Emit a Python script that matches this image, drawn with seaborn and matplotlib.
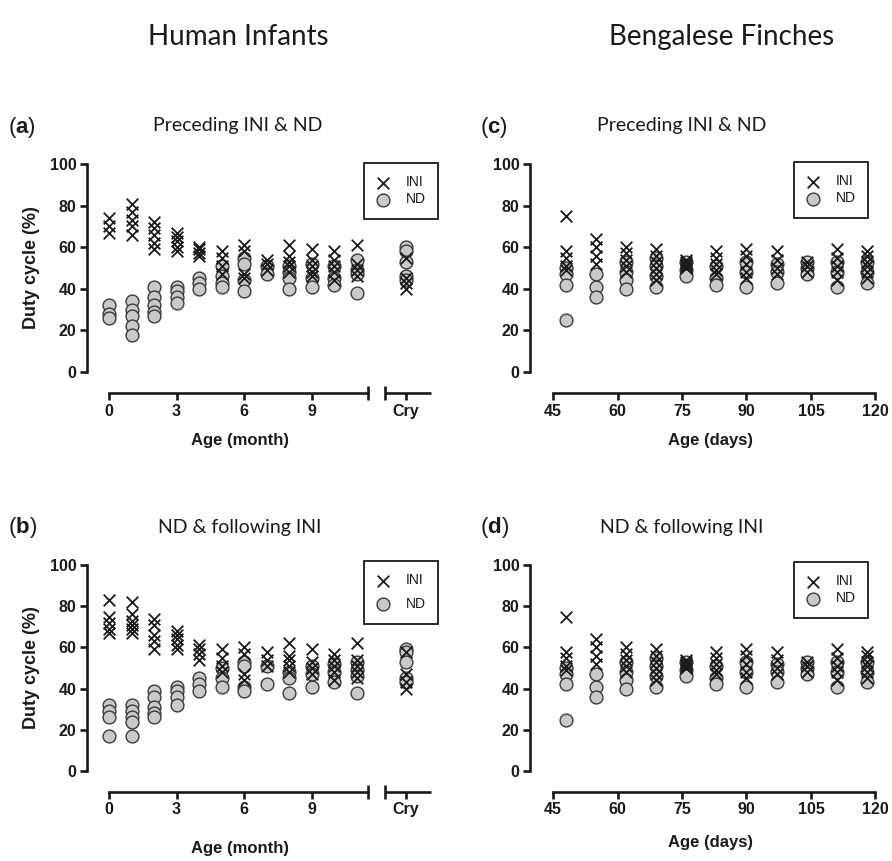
"""
Duty cycle of INI / ND across age: human infants vs Bengalese finches
"""
import numpy as np
import pandas as pd
import matplotlib
matplotlib.use('Agg')
import matplotlib.pyplot as plt
import matplotlib.transforms as mtransforms
import seaborn as sns

sns.set_style('ticks')
plt.rcParams['font.family'] = ['Liberation Sans', 'DejaVu Sans']
plt.rcParams['mathtext.fontset'] = 'custom'
plt.rcParams['mathtext.rm'] = 'Liberation Sans'
plt.rcParams['mathtext.bf'] = 'Liberation Sans:bold'

# ---- data ----
infant_pos = [0, 1, 2, 3, 4, 5, 6, 7, 8, 9, 10, 11, 13.2]   # last column = Cry
infant_ticks = [0, 3, 6, 9, 13.2]
infant_ticklabels = ['0', '3', '6', '9', 'Cry']

a_ini = [[74, 70, 67], [81, 77, 73, 70, 66], [72, 69, 66, 62, 59], [67, 65, 63, 60, 58],
         [60, 59, 57, 56], [58, 55, 51, 47], [61, 58, 47, 45], [54, 52, 49],
         [61, 56, 53, 51, 48], [59, 54, 51, 48, 46], [58, 54, 51, 48, 44], [61, 52, 49, 46],
         [55, 45, 43, 40]]
a_nd = [[32, 28, 26], [34, 30, 27, 22, 18], [41, 36, 32, 29, 27], [41, 39, 36, 33],
        [45, 43, 40], [51, 46, 43, 41], [55, 52, 44, 39], [51, 47],
        [51, 48, 45, 40], [52, 45, 41], [51, 45, 42], [54, 49, 47, 38],
        [60, 58, 53, 46, 44]]

b_ini = [[83, 75, 72, 69, 67], [82, 76, 73, 71, 69, 67], [74, 71, 66, 63, 59], [68, 66, 64, 61, 59],
         [61, 59, 57, 54], [59, 55, 51, 48], [60, 57, 47, 44], [58, 54, 51],
         [62, 56, 54, 51, 48], [59, 53, 50, 47], [57, 54, 51, 48, 44], [62, 54, 51, 48, 45],
         [58, 47, 43, 40]]
b_nd = [[32, 29, 26, 17], [32, 29, 26, 24, 17], [39, 36, 31, 28, 26], [41, 39, 36, 32],
        [45, 42, 39], [50, 45, 41], [53, 51, 41, 39], [51, 42],
        [48, 45, 38], [51, 47, 41], [52, 48, 43], [53, 49, 46, 38],
        [59, 58, 53, 45, 43]]

finch_days = [48, 55, 62, 69, 76, 83, 90, 97, 104, 111, 118]
finch_ticks = [45, 60, 75, 90, 105, 120]

# panels (c) and (d) show the same values in the reference
finch_ini = [[75, 58, 55, 51, 49], [64, 60, 56, 52], [60, 57, 54, 51, 48], [59, 56, 53, 50, 47, 44],
             [54, 53, 52, 51, 50], [58, 55, 52, 49, 47], [59, 56, 52, 48, 45], [58, 54, 50, 47],
             [53, 51, 48], [59, 55, 51, 48, 44], [58, 56, 53, 51, 48, 45]]
finch_nd = [[50, 47, 42, 25], [47, 41, 36], [53, 48, 44, 40], [55, 51, 46, 41],
            [53, 49, 46], [51, 45, 42], [53, 48, 41], [52, 48, 43],
            [53, 50, 47], [53, 48, 41], [53, 48, 43]]


def long_form(xs, groups):
    rows = [(x, v) for x, g in zip(xs, groups) for v in g]
    return pd.DataFrame(rows, columns=['x', 'y'])


W, H = 892, 861
fig = plt.figure(figsize=(W / 100, H / 100), dpi=100)


def px_axes(left, right, top, bottom):
    return fig.add_axes([left / W, 1 - bottom / H, (right - left) / W, (bottom - top) / H])


LW = 1.9
INK = '#1a1a1a'
SPINE_OFF = -21 / 207


def draw_panel(ax, xs, ini, nd, xlim, legend_anchor, legend_space):
    sns.scatterplot(data=long_form(xs, nd), x='x', y='y', ax=ax, marker='o', s=85,
                    color='#c9c9c9', edgecolor='#3a3a3a', linewidth=1.0, label='ND', zorder=3)
    sns.scatterplot(data=long_form(xs, ini), x='x', y='y', ax=ax, marker='x', s=70,
                    color=INK, linewidth=1.3, label='INI', zorder=4)
    ax.set_xlim(*xlim)
    ax.set_ylim(0, 100)
    ax.set_yticks([0, 20, 40, 60, 80, 100])
    ax.set_xlabel('')
    ax.set_ylabel('')
    sns.despine(ax=ax)
    for side in ['left', 'bottom']:
        ax.spines[side].set_linewidth(LW)
        ax.spines[side].set_color(INK)
    ax.spines['bottom'].set_position(('axes', SPINE_OFF))
    ax.tick_params(width=LW, length=5, labelsize=11.5, pad=2.5, color=INK, labelcolor=INK)
    for lab in ax.get_xticklabels() + ax.get_yticklabels():
        lab.set_fontweight('bold')
    h, l = ax.get_legend_handles_labels()
    leg = ax.legend(h[::-1], l[::-1], loc='upper right', bbox_to_anchor=legend_anchor,
                    borderaxespad=0, fancybox=False, framealpha=1, edgecolor=INK,
                    fontsize=10, handletextpad=1.1, handlelength=1.0, labelspacing=legend_space,
                    borderpad=0.9)
    leg.get_frame().set_linewidth(1.3)
    for t in leg.get_texts():
        t.set_color(INK)


def infant_axis(ax):
    ax.set_xticks(infant_ticks)
    ax.set_xticklabels(infant_ticklabels, fontweight='bold')
    ax.spines['bottom'].set_bounds(0, 11.5)
    trans = mtransforms.blended_transform_factory(ax.transData, ax.transAxes)
    # Cry segment of the broken x axis
    ax.plot([12.27, 14.3], [SPINE_OFF, SPINE_OFF], color=INK, lw=LW,
            transform=trans, clip_on=False, solid_capstyle='butt')
    ax.plot([11.5, 12.27], [SPINE_OFF, SPINE_OFF], linestyle='none', marker='|',
            markersize=10, mew=LW, color=INK, transform=trans, clip_on=False)


def finch_axis(ax):
    ax.set_xticks(finch_ticks)
    ax.set_xticklabels([str(t) for t in finch_ticks], fontweight='bold')
    ax.spines['bottom'].set_bounds(45, 120)


ax_a = px_axes(87, 440, 164, 372)
draw_panel(ax_a, infant_pos, a_ini, a_nd, (-0.98, 14.71), (0.994, 1.005), 0.2)
infant_axis(ax_a)

ax_b = px_axes(87, 440, 565, 771)
draw_panel(ax_b, infant_pos, b_ini, b_nd, (-0.98, 14.71), (0.994, 1.02), 0.7)
infant_axis(ax_b)

ax_c = px_axes(530, 880, 164, 372)
draw_panel(ax_c, finch_days, finch_ini, finch_nd, (39.65, 121.05), (0.966, 1.01), 0.2)
finch_axis(ax_c)

ax_d = px_axes(530, 880, 565, 771)
draw_panel(ax_d, finch_days, finch_ini, finch_nd, (39.65, 121.05), (0.966, 1.015), 0.2)
finch_axis(ax_d)

# ---- texts ----
title_font = ['Lato', 'DejaVu Sans']


def ftext(x, y, s, **kw):
    fig.text(x / W, 1 - y / H, s, color=INK, **kw)


ftext(238, 37, 'Human Infants', ha='center', va='center', fontsize=20, family=title_font)
ftext(722, 37, 'Bengalese Finches', ha='center', va='center', fontsize=20, family=title_font)

for x, y, s in [(238, 125, 'Preceding INI & ND'), (682, 125, 'Preceding INI & ND'),
                (240, 527, 'ND & following INI'), (682, 527, 'ND & following INI')]:
    ftext(x, y, s, ha='center', va='center', fontsize=14, family=title_font)

for x, y, s in [(8, 128, 'a'), (480, 128, 'c'), (8, 528, 'b'), (480, 528, 'd')]:
    ftext(x, y, r'($\mathbf{' + s + '}$)', ha='left', va='center', fontsize=16)

for y in [268, 668]:
    ftext(32, y, 'Duty cycle (%)', ha='center', va='center', rotation=90,
          fontsize=13, fontweight='bold')

ftext(240, 441, 'Age (month)', ha='center', va='center', fontsize=12, fontweight='bold')
ftext(240, 848, 'Age (month)', ha='center', va='center', fontsize=12, fontweight='bold')
ftext(710, 441, 'Age (days)', ha='center', va='center', fontsize=12, fontweight='bold')
ftext(710, 843, 'Age (days)', ha='center', va='center', fontsize=12, fontweight='bold')

fig.savefig('out.png', dpi=100)
plt.close(fig)
